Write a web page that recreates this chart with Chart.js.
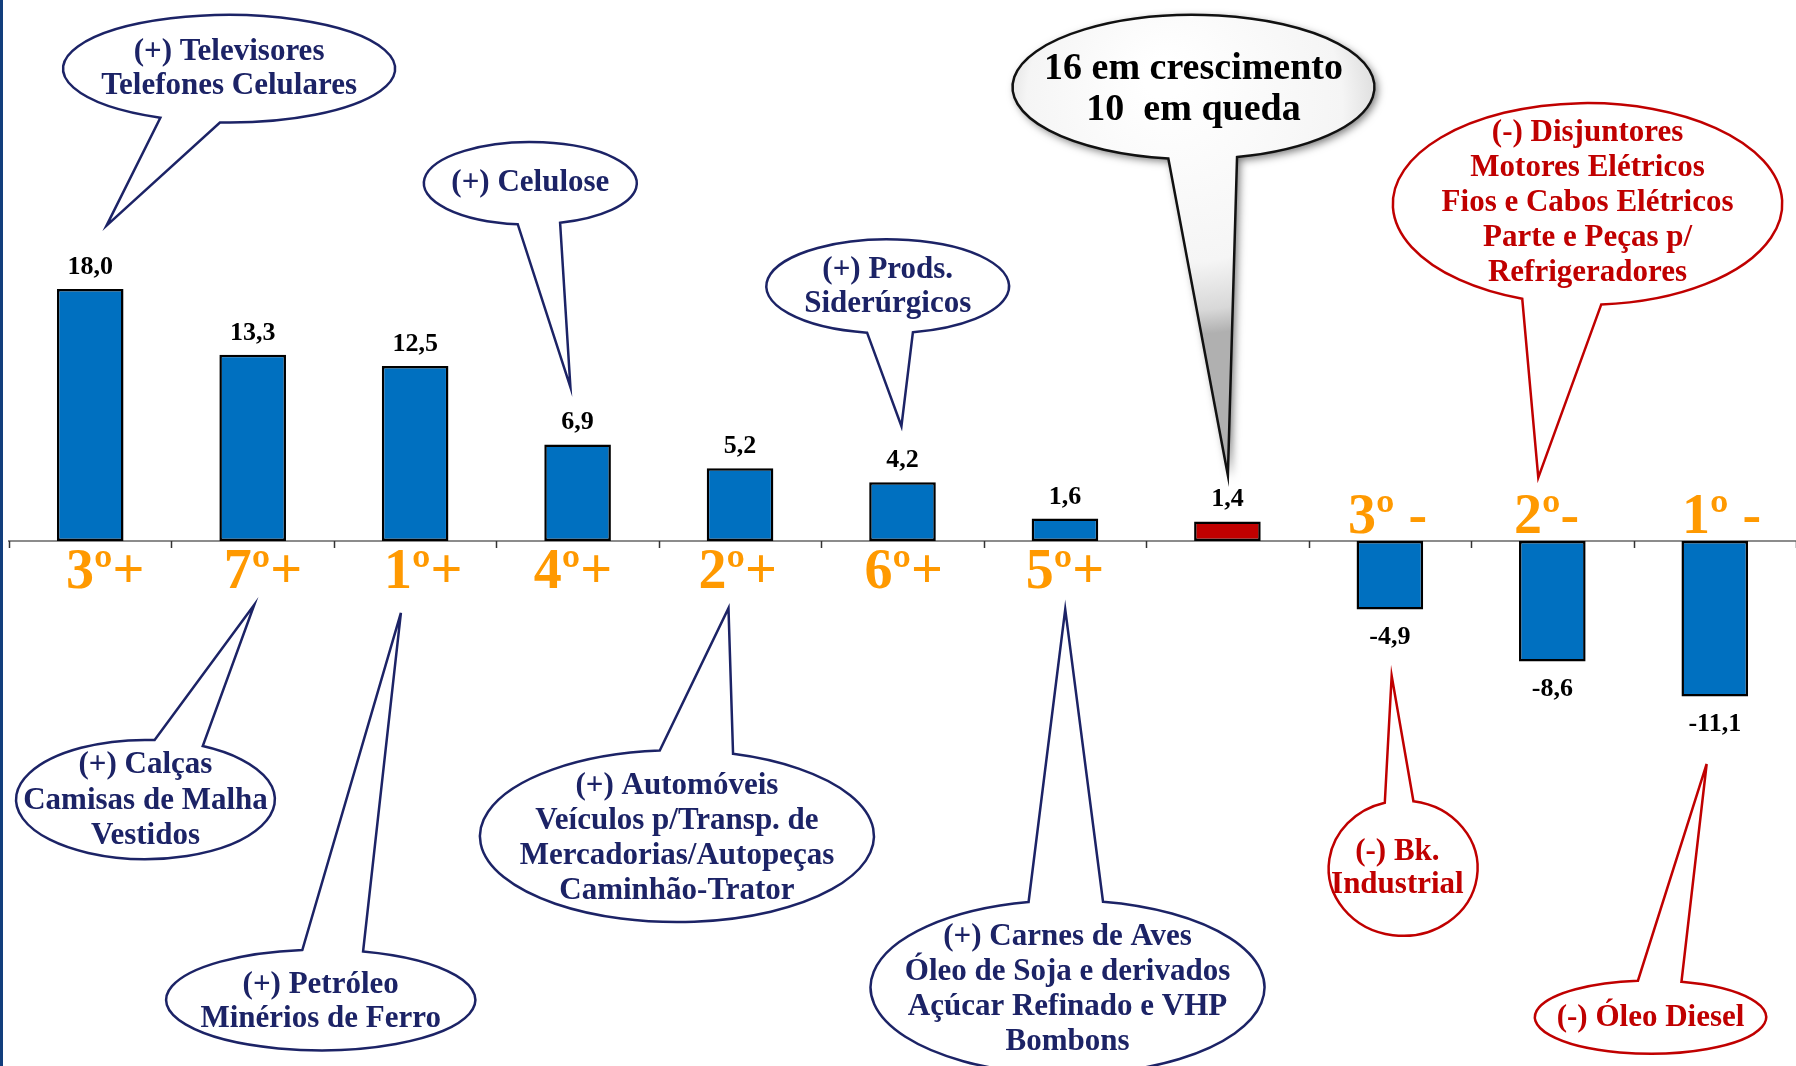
<!DOCTYPE html>
<html>
<head>
<meta charset="utf-8">
<script src="https://cdn.jsdelivr.net/npm/chart.js@4/dist/chart.umd.min.js"></script>
<style>
  html, body { margin: 0; padding: 0; background: #fff; }
  #grafico { display: block; }
</style>
</head>
<body>
<canvas id="grafico" width="1796" height="1066"></canvas>
<script>
// Variação por grupo de produtos - ranking dos maiores aumentos e quedas
const categorias = ['3º+', '7º+', '1º+', '4º+', '2º+', '6º+', '5º+', '', '3º -', '2º-', '1º -'];
const variacoes = [18.0, 13.3, 12.5, 6.9, 5.2, 4.2, 1.6, 1.4, -4.9, -8.6, -11.1];
const destaque = [false, false, false, false, false, false, false, true, false, false, false];

const AZUL = '#0070C0';
const VERMELHO = '#C00000';
const LARANJA = '#FF9900';
const MARINHO = '#1C2366';
const FONTE = '"Liberation Serif", "Times New Roman", serif';

// as bolhas foram medidas na imagem reduzida (1568 px de largura)
const S = 1796 / 1568;
// pequeno deslocamento horizontal dos rótulos de posição (px da imagem reduzida)
const ajusteRotulo = [13, 9, 7, -4, -2, 1, 0, 0, -2, -5, 6];
const bolhas = [
  { linhas: ['(+) Televisores', 'Telefones Celulares'], cor: MARINHO, cx: 200, cy: 60, rx: 145, ry: 47, base: [140, 192], ponta: [93, 197], tx: 200, ty: [45, 75] },
  { linhas: ['(+) Celulose'], cor: MARINHO, cx: 463, cy: 160, rx: 93, ry: 36, base: [452, 489], ponta: [498, 338], tx: 463, ty: [160] },
  { linhas: ['(+) Prods.', 'Siderúrgicos'], cor: MARINHO, cx: 775, cy: 250, rx: 106, ry: 41, base: [757, 797], ponta: [787, 372], tx: 775, ty: [236, 265] },
  { linhas: ['(-) Disjuntores', 'Motores Elétricos', 'Fios e Cabos Elétricos', 'Parte e Peças p/', 'Refrigeradores'], cor: VERMELHO, cx: 1386, cy: 178, rx: 170, ry: 88, base: [1329, 1398], ponta: [1343, 417], tx: 1386, ty: [116, 147, 177, 208, 238] },
  { linhas: ['(+) Calças', 'Camisas de Malha', 'Vestidos'], cor: MARINHO, cx: 127, cy: 698, rx: 113, ry: 52, base: [135, 177], ponta: [222, 528], tx: 127, ty: [668, 699, 730] },
  { linhas: ['(+) Petróleo', 'Minérios de Ferro'], cor: MARINHO, cx: 280, cy: 873, rx: 135, ry: 44, base: [264, 317], ponta: [350, 535], tx: 280, ty: [860, 890] },
  { linhas: ['(+) Automóveis', 'Veículos p/Transp. de', 'Mercadorias/Autopeças', 'Caminhão-Trator'], cor: MARINHO, cx: 591, cy: 730, rx: 172, ry: 75, base: [576, 640], ponta: [636, 531], tx: 591, ty: [686, 717, 747, 778] },
  { linhas: ['(+) Carnes de Aves', 'Óleo de Soja e derivados', 'Açúcar Refinado e VHP', 'Bombons'], cor: MARINHO, cx: 932, cy: 862, rx: 172, ry: 76, base: [898, 963], ponta: [930, 532], tx: 932, ty: [818, 849, 879, 910] },
  { linhas: ['(-) Bk.', 'Industrial'], cor: VERMELHO, cx: 1225, cy: 758, rx: 65, ry: 59, base: [1209, 1234], ponta: [1215, 590], tx: 1220, ty: [744, 773] },
  { linhas: ['(-) Óleo Diesel'], cor: VERMELHO, cx: 1441, cy: 888, rx: 101, ry: 32, base: [1430, 1468], ponta: [1490, 667], tx: 1441, ty: [889] }
];
const resumo = { linhas: ['16 em crescimento', '10  em queda'], cx: 1042, cy: 76, rx: 158, ry: 63, base: [1020, 1080], ponta: [1072, 415], tx: 1042, ty: [60, 96] };

function caminhoBolha(ctx, b) {
  const cx = b.cx * S, cy = b.cy * S, rx = b.rx * S, ry = b.ry * S;
  const px = b.ponta[0] * S, py = b.ponta[1] * S;
  const sinal = py > cy ? 1 : -1;
  const ang = x => sinal * Math.acos(Math.max(-1, Math.min(1, (x * S - cx) / rx)));
  const a1 = ang(b.base[0]), a2 = ang(b.base[1]);
  const lo = Math.min(a1, a2), hi = Math.max(a1, a2);
  ctx.beginPath();
  ctx.ellipse(cx, cy, rx, ry, 0, hi, lo + Math.PI * 2, false);
  ctx.lineTo(px, py);
  ctx.closePath();
}

function textoBolha(ctx, b, tamanho, cor) {
  ctx.font = 'bold ' + tamanho + 'px ' + FONTE;
  ctx.fillStyle = cor;
  ctx.textAlign = 'center';
  ctx.textBaseline = 'middle';
  b.linhas.forEach((l, i) => ctx.fillText(l, b.tx * S, b.ty[i] * S));
}

const fmt = v => v.toFixed(1).replace('.', ',');

const decoracao = {
  id: 'decoracao',
  beforeDatasetsDraw(chart) {
    const ctx = chart.ctx;
    const xs = chart.scales.x, ys = chart.scales.y;
    const y0 = ys.getPixelForValue(0);
    ctx.save();
    // borda esquerda
    ctx.fillStyle = '#123E7C';
    ctx.fillRect(0, 0, 3, chart.height);
    // eixo
    ctx.strokeStyle = '#8C8C8C';
    ctx.lineWidth = 2;
    ctx.beginPath();
    ctx.moveTo(xs.left - 1, y0);
    ctx.lineTo(xs.right, y0);
    ctx.stroke();
    const w = (xs.right - xs.left) / categorias.length;
    ctx.strokeStyle = '#333';
    ctx.lineWidth = 1.5;
    for (let k = 0; k <= categorias.length; k++) {
      const x = Math.round(xs.left + k * w) + 0.5;
      ctx.beginPath();
      ctx.moveTo(x, y0);
      ctx.lineTo(x, y0 + 7);
      ctx.stroke();
    }
    ctx.restore();
  },
  afterDatasetsDraw(chart) {
    const ctx = chart.ctx;
    const ys = chart.scales.y;
    const y0 = ys.getPixelForValue(0);
    const meta = chart.getDatasetMeta(0);
    ctx.save();
    // valores
    ctx.font = 'bold 26px ' + FONTE;
    ctx.fillStyle = '#000';
    ctx.textAlign = 'center';
    meta.data.forEach((bar, i) => {
      const v = variacoes[i];
      if (v >= 0) {
        ctx.textBaseline = 'alphabetic';
        ctx.fillText(fmt(v), bar.x, bar.y - 15);
      } else {
        ctx.textBaseline = 'top';
        ctx.fillText(fmt(v), bar.x, bar.y + 15);
      }
    });
    // posições no ranking
    ctx.font = 'bold 56px ' + FONTE;
    ctx.fillStyle = LARANJA;
    ctx.textBaseline = 'alphabetic';
    meta.data.forEach((bar, i) => {
      if (!categorias[i]) return;
      const x = bar.x + ajusteRotulo[i] * S;
      if (variacoes[i] >= 0) {
        ctx.fillText(categorias[i], x, y0 + 47);
      } else {
        ctx.fillText(categorias[i], x, y0 - 8);
      }
    });
    // bolhas de comentário
    ctx.lineWidth = 2.5;
    ctx.lineJoin = 'miter';
    bolhas.forEach(b => {
      caminhoBolha(ctx, b);
      ctx.fillStyle = '#fff';
      ctx.fill();
      ctx.strokeStyle = b.cor;
      ctx.stroke();
      textoBolha(ctx, b, 31, b.cor);
    });
    // balão cinza do resumo
    caminhoBolha(ctx, resumo);
    const g = ctx.createRadialGradient(resumo.cx * S - 30, resumo.cy * S - 10, 20, resumo.cx * S, resumo.cy * S + 30, resumo.rx * S * 1.2);
    g.addColorStop(0, '#ffffff');
    g.addColorStop(0.7, '#f5f5f5');
    g.addColorStop(0.9, '#d8d8d8');
    g.addColorStop(1, '#b0b0b0');
    ctx.save();
    ctx.shadowColor = 'rgba(0,0,0,0.55)';
    ctx.shadowBlur = 8;
    ctx.shadowOffsetX = 3;
    ctx.shadowOffsetY = 3;
    ctx.fillStyle = g;
    ctx.fill();
    ctx.restore();
    ctx.strokeStyle = '#111';
    ctx.lineWidth = 2.5;
    caminhoBolha(ctx, resumo);
    ctx.stroke();
    textoBolha(ctx, resumo, 38, '#000');
    ctx.restore();
  }
};

new Chart(document.getElementById('grafico'), {
  type: 'bar',
  data: {
    labels: categorias,
    datasets: [{
      data: variacoes,
      backgroundColor: destaque.map(d => d ? VERMELHO : AZUL),
      borderColor: '#000',
      borderWidth: 2.5,
      borderSkipped: false,
      categoryPercentage: 1,
      barPercentage: 0.41
    }]
  },
  options: {
    responsive: false,
    animation: false,
    layout: { padding: { left: 9, right: 0, top: 0, bottom: 0 } },
    scales: {
      x: { display: false },
      y: { display: false, min: -37.5, max: 38.64 }
    },
    plugins: {
      legend: { display: false },
      tooltip: { enabled: false }
    }
  },
  plugins: [decoracao]
});
</script>
</body>
</html>
